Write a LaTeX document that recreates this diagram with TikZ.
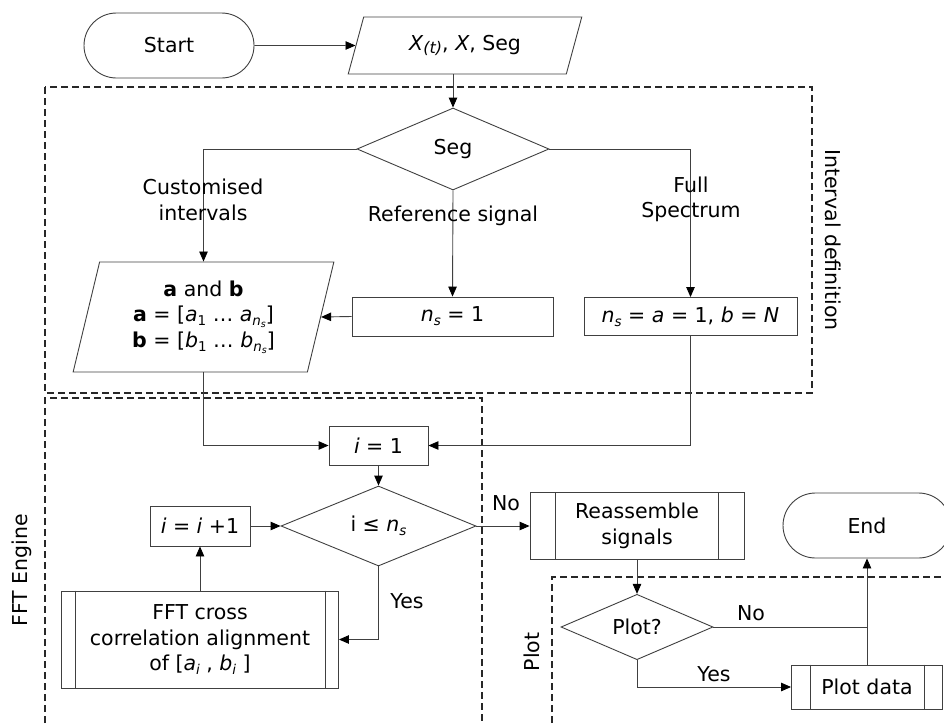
\documentclass[tikz,border=0pt]{standalone}
\usepackage{fontspec}
\setmainfont{DejaVu Sans}
\usetikzlibrary{shapes.geometric,shapes.misc,arrows.meta}
\definecolor{lc}{RGB}{64,64,64}
\definecolor{dc}{RGB}{40,40,40}
\newcommand\lsub[1]{\raisebox{-0.35ex}{\fontsize{13.5}{13.5}\selectfont #1}}
\newcommand\tsub[1]{\raisebox{-0.25ex}{\fontsize{16}{16}\selectfont #1}}
\newcommand\nsub{\lsub{\itshape n\raisebox{-0.3ex}{\fontsize{9.5}{9.5}\selectfont s}}}
\begin{document}
\begin{tikzpicture}[x=1pt,y=-1pt,
  every node/.style={font=\fontsize{20.5}{25.5}\selectfont, text=black},
  ln/.style={draw=lc, line width=0.9pt},
  arr/.style={ln, -{Triangle[length=10pt,width=8.5pt,color=black]}},
  box/.style={draw=lc, line width=0.9pt, rectangle, inner sep=0pt, align=center},
  term/.style={draw=lc, line width=0.9pt, rounded rectangle, inner sep=0pt},
  dec/.style={draw=lc, line width=0.9pt, diamond, inner sep=0pt},
  para/.style={draw=lc, line width=0.9pt, trapezium, trapezium stretches=true, inner sep=0pt, align=center},
  grp/.style={draw=dc, line width=1.1pt, dash pattern=on 7pt off 4pt},
  lab/.style={inner sep=0pt, align=center}]
\useasboundingbox (0,0) rectangle (944,723);
\clip (0,0) rectangle (944,723);

% group frames
\draw[grp] (45,87) rectangle (812,393);
\draw[grp] (45,723) -- (45,398) -- (482,398) -- (482,723);
\draw[grp] (552,723) -- (552,577) -- (944,577);
\node[lab, rotate=-90] (gint) at (833,240) {Interval definition};
\node[lab, rotate=90] (gfft) at (22,570) {FFT Engine};
\node[lab, rotate=90] (gplot) at (532,652) {Plot};

% nodes
\node[term, minimum width=170pt, minimum height=65pt] (start) at (169,45.5) {Start};
\node[para, trapezium left angle=67, trapezium right angle=113, minimum width=234pt, minimum height=57pt] (inp) at (465,45.5) {\textit{X}\tsub{\itshape (t)}, \textit{X}, Seg};
\node[dec, minimum width=192pt, minimum height=82pt] (seg) at (453,149) {Seg};
\node[para, trapezium left angle=76, trapezium right angle=104, minimum width=261pt, minimum height=110pt] (ab) at (203.5,317)
  {{\bfseries a} and {\bfseries b}\\{\bfseries a} = [\textit{a}\lsub{1} … \textit{a}\nsub]\\{\bfseries b} = [\textit{b}\lsub{1} … \textit{b}\nsub]};
\node[box, minimum width=201pt, minimum height=39pt] (ns1) at (452.5,316.5) {\textit{n}\lsub{\itshape s} = 1};
\node[box, minimum width=213pt, minimum height=38pt] (fs) at (690.5,316.5) {\textit{n}\lsub{\itshape s} = \textit{a} = 1, \textit{b} = \textit{N}};
\node[box, minimum width=99pt, minimum height=39pt] (i1) at (378.5,445.5) {\textit{i} = 1};
\node[dec, minimum width=195pt, minimum height=80pt] (cond) at (378.5,526) {i ≤ \textit{n}\lsub{\itshape s}};
\node[box, minimum width=100pt, minimum height=40pt] (inc) at (200,526) {\textit{i} = \textit{i} +1};
\node[box, minimum width=277pt, minimum height=97pt] (fft) at (200,639.5) {FFT cross\\correlation alignment\\of [\textit{a}\lsub{\itshape i} , \textit{b}\lsub{\itshape i} ]};
\node[box, minimum width=214pt, minimum height=67pt] (reas) at (637,526) {Reassemble\\signals};
\node[term, minimum width=168pt, minimum height=65pt] (endn) at (867,525.5) {End};
\node[dec, minimum width=152pt, minimum height=62pt] (plotq) at (637,627) {Plot?};
\node[box, minimum width=151pt, minimum height=44pt] (pd) at (867,687) {Plot data};

\foreach \n/\o in {fft/14,reas/26,pd/19}
  \draw[ln] ([xshift=\o pt]\n.north west) -- ([xshift=\o pt]\n.south west)
            ([xshift=-\o pt]\n.north east) -- ([xshift=-\o pt]\n.south east);

% connectors
\draw[arr] (start.east) -- (inp.west);
\draw[arr] (seg.north |- inp.south) -- (seg.north);
\draw[arr] (seg.west) -| (ab.center |- ab.north);
\draw[arr] (seg.south) -- (ns1.north);
\draw[arr] (seg.east) -| (fs.north);
\draw[arr] (ns1.west) -- (ab.east);
\draw[arr] (ab.center |- ab.south) |- (i1.west);
\draw[arr] (fs.south) |- (i1.east);
\draw[arr] (i1.south) -- (cond.north);
\draw[arr] (inc.east) -- (cond.west);
\draw[arr] (fft.north) -- (inc.south);
\draw[arr] (cond.south) |- (fft.east);
\draw[arr] (cond.east) -- (reas.west);
\draw[arr] (reas.south) -- (plotq.north);
\draw[arr] (plotq.south) |- (pd.west);
\coordinate (j) at (plotq.east -| pd.north);
\draw[ln] (plotq.east) -- (j);
\draw[arr] (pd.north) -- (endn.south);

% connector labels
\node[lab] (lcust) at (203,200) {Customised\\intervals};
\node[lab] (lref) at (453,216) {Reference signal};
\node[lab] (lfull) at (691,199.5) {Full\\Spectrum};
\node[lab] (lyes1) at (407,601) {Yes};
\node[lab] (lno1) at (506,503) {No};
\node[lab] (lno2) at (751,613) {No};
\node[lab] (lyes2) at (714,674) {Yes};
\end{tikzpicture}
\end{document}
